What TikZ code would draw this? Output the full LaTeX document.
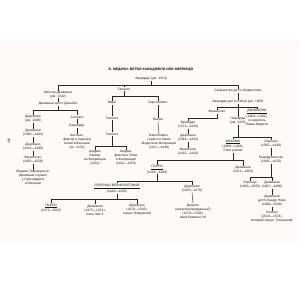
\documentclass[tikz,border=0pt]{standalone}
\usepackage{fontspec}
\setmainfont{Liberation Sans}
\begin{document}
\begin{tikzpicture}[x=1pt,y=-1pt,
  nm/.style={font=\fontsize{3.3}{4}\selectfont, inner sep=0.2pt, align=center, text=black!90},
  ttl/.style={font=\fontsize{3.4}{4}\selectfont\bfseries, inner sep=0.2pt, text=black},
  ln/.style={draw=black!85, line width=0.4pt}]
\useasboundingbox (0,0) rectangle (300,300);
\fill[white] (0,0) rectangle (300,300);
\fill[red!2!white] (0,40) rectangle (300,243);
% title
\node[ttl] (title) at (151,70) {Б. МЕДИЧИ: ВЕТВИ КАФАДЖОЛО ИЛИ АВЕРАРДО};
\node[nm] (av) at (151,79) {Аверардо (ум. 1319)};
\node[nm,rotate=90] (pg) at (9,141) {165};
% left branch
\node[nm] (mj) at (58,94.5) {Мессер Джованни\\(ум. 1322)};
\node[nm] (gz) at (58,104) {Джованни детто Дзаноби};
\node[nm] (jl1) at (33,119) {Джулиано\\(ум. 1408)};
\node[nm] (an1) at (77,117) {Антонио};
\node[nm] (jv1) at (33,133) {Джованни\\(1380—1463)};
\node[nm] (jl2) at (33,147) {Джулиано\\(1412—1499)};
\node[nm] (fr1) at (33,160) {Франческо\\(1450—1528)};
\node[nm] (tor) at (33,178) {Медичи-Торнакуинчи.\\Джованни служил\\у Гвиччардини\\в Венеции};
\node[nm] (bn) at (77,126) {Бернардо};
\node[nm] (an2) at (77,142) {Антонио,\\фактор и партнер\\ветви в Венеции\\(ок. 1470)};
% middle branch
\node[nm] (tal) at (124,89) {Таленто};
\node[nm] (mar) at (112,103) {Мари};
\node[nm] (bart1) at (158,103) {Бартоломео};
\node[nm] (tal2) at (112,118) {Таленто};
\node[nm] (vie) at (158,120) {Вьери};
\node[nm] (tal3) at (112,134) {Таленто};
\node[nm] (and1) at (95,158) {Андреа,\\банкир\\во Флоренции\\(1411)};
\node[nm] (and2) at (126,158) {Андреа,\\фактор в Риме\\и Флоренции\\(1421—1452)};
\node[nm] (bart2) at (159,142) {Бартоломео,\\служил в банке\\Медичи во Флоренции\\(1417—1448)};
% right branch
\node[nm] (salv) at (238,91) {Сальвестро детто Кьяриссимо};
\node[nm] (bic) at (238,102) {Аверардо детто Биччи (ум. 1363)};
\node[nm] (fr2) at (217,112) {Франческо};
\node[nm] (gio) at (257,117.5) {\underline{ДЖОВАННИ}\\(1360—1429),\\основатель\\банка Медичи};
\node[nm] (pic) at (238,121) {Пиккарда\\(ум. 1433)};
\node[nm] (av2) at (188,125) {Аверардо\\(1373—1434)};
\node[nm] (jl3) at (188,138) {Джулиано\\(1394—1434)};
\node[nm] (fr3) at (188,152) {Франческо\\(1415—1443)};
\node[nm] (kos) at (233,146) {\underline{КОЗИМО}\\(1389—1464),\\Pater patriae};
\node[nm] (lor) at (271,144) {Лоренцо\\(1395—1440)};
\node[nm] (pie) at (157,169.5) {\underline{ПЬЕРО}\\(1416—1469)};
\node[nm] (gv2) at (243,169.5) {Джованни\\(1421—1463)};
\node[nm] (pf) at (271,160) {Пьерфранческо\\(1430—1476)};
\node[nm] (lor2) at (250,185) {Лоренцо\\(1463—1503)};
\node[nm] (gv3) at (272,185) {Джованни\\(1467—1498)};
\node[nm] (bn2) at (272,201) {Джованни\\детто Банде Нере\\(1498—1526)};
\node[nm] (kos2) at (272,217) {Козимо\\(1519—1574),\\великий герцог Тосканский};
\node[nm] (lm) at (117,188.5) {\underline{ЛОРЕНЦО ВЕЛИКОЛЕПНЫЙ}\\(1449—1492)};
\node[nm] (jl4) at (192,188.5) {Джулиано\\(1453—1478)};
\node[nm] (jul) at (193,211) {Джулио\\(незаконнорожденный)\\(1478—1534),\\папа Климент VII};
\node[nm] (pie2) at (51,208) {\underline{ПЬЕРО}\\(1472—1503)};
\node[nm] (gv4) at (95,210) {Джованни\\(1475—1521),\\папа Лев X};
\node[nm] (jl5) at (137,210) {Джулиано\\(1479—1516),\\герцог Немурский};
% bars
\coordinate (b0) at (0,85);
\coordinate (b1) at (0,110);
\coordinate (b2) at (0,96);
\coordinate (b3) at (0,146);
\coordinate (b4) at (0,107.5);
\coordinate (b5) at (0,118);
\coordinate (b6) at (0,137.5);
\coordinate (b7) at (0,160);
\coordinate (b8) at (0,177);
\coordinate (b9) at (0,181);
\coordinate (b10) at (0,199);
% connectors
\draw[ln] (av.south) -- (av.south |- b0);
\draw[ln] (mj.north) -- (mj.north |- b0) -- (salv.north |- b0) -- (salv.north);
\draw[ln] (tal.north) -- (tal.north |- b0);
\draw[ln] (mj.south) -- (gz.north);
\draw[ln] (gz.south) -- (gz.south |- b1);
\draw[ln] (jl1.north) -- (jl1.north |- b1) -- (an1.north |- b1) -- (an1.north);
\draw[ln] (jl1.south) -- (jv1.north);
\draw[ln] (jv1.south) -- (jl2.north);
\draw[ln] (jl2.south) -- (fr1.north);
\draw[ln] (fr1.south) -- (tor.north);
\draw[ln] (an1.south) -- (bn.north);
\draw[ln] (bn.south) -- (an2.north);
\draw[ln] (tal.south) -- (tal.south |- b2);
\draw[ln] (mar.north) -- (mar.north |- b2) -- (bart1.north |- b2) -- (bart1.north);
\draw[ln] (mar.south) -- (tal2.north);
\draw[ln] (tal2.south) -- (tal3.north);
\draw[ln] (tal3.south) -- (tal3.south |- b3);
\draw[ln] (and1.north) -- (and1.north |- b3) -- (and2.north |- b3) -- (and2.north);
\draw[ln] (bart1.south) -- (vie.north);
\draw[ln] (vie.south) -- (bart2.north);
\draw[ln] (salv.south) -- (bic.north);
\draw[ln] (bic.south) -- (pic.north);
\draw[ln] (fr2.north) -- (fr2.north |- b4) -- (gio.north |- b4) -- (gio.north);
\draw[ln] (fr2.south) -- (fr2.south |- b5) -- (av2.north |- b5) -- (av2.north);
\draw[ln] (av2.south) -- (jl3.north);
\draw[ln] (jl3.south) -- (fr3.north);
\draw[ln] (pic.south) -- (pic.south |- b6);
\draw[ln] (kos.north) -- (kos.north |- b6) -- (lor.north |- b6) -- (lor.north);
\draw[ln] (kos.south) -- (kos.south |- b7);
\draw[ln] (pie.north) -- (pie.north |- b7) -- (gv2.north |- b7) -- (gv2.north);
\draw[ln] (lor.south) -- (pf.north);
\draw[ln] (pf.south) -- (pf.south |- b8);
\draw[ln] (lor2.north) -- (lor2.north |- b8) -- (gv3.north |- b8) -- (gv3.north);
\draw[ln] (gv3.south) -- (bn2.north);
\draw[ln] (bn2.south) -- (kos2.north);
\draw[ln] (pie.south) -- (pie.south |- b9);
\draw[ln] (lm.north) -- (lm.north |- b9) -- (jl4.north |- b9) -- (jl4.north);
\draw[ln] (jl4.south) -- (jul.north);
\draw[ln] (lm.south) -- (lm.south |- b10);
\draw[ln] (pie2.north) -- (pie2.north |- b10) -- (jl5.north |- b10) -- (jl5.north);
\draw[ln] (gv4.north) -- (gv4.north |- b10);
\end{tikzpicture}
\end{document}
